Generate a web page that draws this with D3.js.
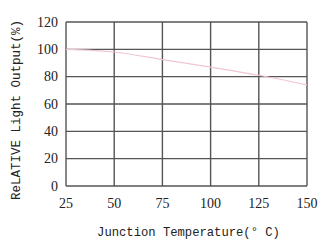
<!DOCTYPE html>
<html lang="en">
<head>
  <meta charset="UTF-8">
  <title>Relative Light Output</title>
  <script src="https://d3js.org/d3.v7.min.js"></script>
  <style>
    body { margin: 0; background: #fff; }
  </style>
</head>
<body>
  <script>
    var temps = [25, 50, 75, 100, 125, 150];
    var output = [100, 98, 92.5, 87, 81, 74];
    var xTicks = [25, 50, 75, 100, 125, 150];
    var yTicks = [0, 20, 40, 60, 80, 100, 120];

    var width = 328, height = 250;
    var plotLeft = 66, plotRight = 307, plotTop = 22, plotBottom = 186;

    var svg = d3.select("body").append("svg")
      .attr("width", width)
      .attr("height", height);

    var x = d3.scaleLinear().domain([25, 150]).range([plotLeft, plotRight]);
    var y = d3.scaleLinear().domain([0, 120]).range([plotBottom, plotTop]);

    // grid
    svg.selectAll(".vline")
      .data(xTicks)
      .enter().append("line")
      .attr("x1", d => x(d)).attr("x2", d => x(d))
      .attr("y1", plotTop).attr("y2", plotBottom)
      .style("stroke", "#555").style("stroke-width", 1.4);

    svg.selectAll(".hline")
      .data(yTicks)
      .enter().append("line")
      .attr("x1", plotLeft).attr("x2", plotRight)
      .attr("y1", d => y(d)).attr("y2", d => y(d))
      .style("stroke", "#555").style("stroke-width", 1.4);

    // tick labels
    svg.selectAll(".xlab")
      .data(xTicks)
      .enter().append("text")
      .attr("x", d => x(d))
      .attr("y", 208)
      .attr("text-anchor", "middle")
      .style("font-family", "'Liberation Serif', serif")
      .style("font-size", "14px")
      .style("fill", "#222")
      .text(d => d);

    svg.selectAll(".ylab")
      .data(yTicks)
      .enter().append("text")
      .attr("x", 58)
      .attr("y", d => y(d) + 4.5)
      .attr("text-anchor", "end")
      .style("font-family", "'Liberation Serif', serif")
      .style("font-size", "14px")
      .style("fill", "#222")
      .text(d => d);

    // curve
    var line = d3.line()
      .x((d, i) => x(temps[i]))
      .y(d => y(d))
      .curve(d3.curveMonotoneX);

    svg.append("path")
      .datum(output)
      .attr("d", line)
      .style("fill", "none")
      .style("stroke", "#f0c6d0")
      .style("stroke-width", 1.1);

    // axis titles
    svg.append("text")
      .attr("x", (plotLeft + plotRight) / 2 + 2)
      .attr("y", 236)
      .attr("text-anchor", "middle")
      .style("font-family", "'Liberation Mono', monospace")
      .style("font-size", "12.2px")
      .style("fill", "#222")
      .text("Junction Temperature(° C)");

    svg.append("text")
      .attr("transform", "translate(20," + ((plotTop + plotBottom) / 2 + 6) + ") rotate(-90)")
      .attr("text-anchor", "middle")
      .style("font-family", "'Liberation Mono', monospace")
      .style("font-size", "12.5px")
      .style("fill", "#222")
      .text("ReLATIVE Light Output(%)");
  </script>
</body>
</html>
